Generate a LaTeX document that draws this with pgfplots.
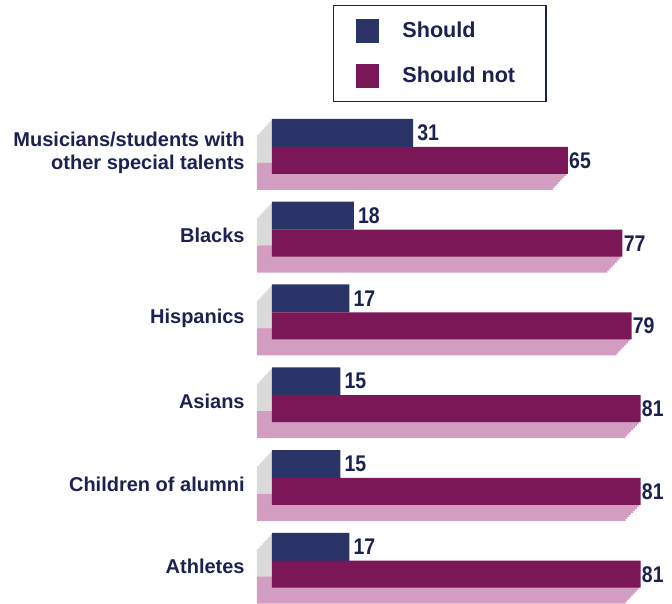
\documentclass[border=0pt]{standalone}
\usepackage{fontspec}
\setmainfont{Liberation Sans}
\usepackage{pgfplots}
\usepackage{pgfplotstable}
\pgfplotsset{compat=1.18}
\definecolor{navybar}{HTML}{2A3468}
\definecolor{maroonbar}{HTML}{7B1657}
\definecolor{pinkface}{HTML}{D29DC0}
\definecolor{grayface}{HTML}{DADADA}
\definecolor{txt}{HTML}{1B2150}
\pgfplotstableread{
x y
31 5
18 4
17 3
15 2
15 1
17 0
}\should
\pgfplotstableread{
x y
65 5
77 4
79 3
81 2
81 1
81 0
}\shouldnot
\begin{document}
\begin{tikzpicture}
\begin{axis}[name=front,
  scale only axis, width=300pt, height=452.25pt,
  xmin=0, xmax=87.9, ymin=-0.5106, ymax=6.7764,
  xbar, clip=false,
  axis line style={draw=none}, major tick length=0pt,
  xtick=\empty,
  ytick={0,1,2,3,4,5},
  yticklabels={Athletes, Children of alumni, Asians, Hispanics, Blacks, {Musicians/students with\\other special talents}},
  yticklabel style={font=\fontsize{15}{17.25}\selectfont\bfseries, text=txt, align=right, xshift=-17pt, yshift=-4.5pt},
  legend style={at={(rel axis cs:0.1525,0.9917)}, anchor=north west,
    draw=txt, line width=1.1pt, inner xsep=17pt, inner ysep=10pt,
    row sep=15.75pt, column sep=0pt,
    font=\fontsize{16.2}{17.25}\selectfont\bfseries, text=txt,
    nodes={inner sep=0pt}},
  legend cell align=left,
  legend image code/.code={\fill[#1] (0pt,-9pt) rectangle (17.25pt,9pt); \path (34.5pt,0pt);},
  /pgf/number format/assume math mode=true,
]
\pgfplotsinvokeforeach{1,...,8}{
  \addplot[forget plot, fill=grayface, draw=none, bar width=21pt, bar shift=10.5pt,
    xshift=-#1*1.40625pt, yshift=-#1*1.5pt] table[x=x,y=y] {\should};
  \addplot[forget plot, fill=pinkface, draw=none, bar width=20.25pt, bar shift=-10.1pt,
    xshift=-#1*1.40625pt, yshift=-#1*1.5pt] table[x=x,y=y] {\shouldnot};
}
\addplot[fill=navybar, draw=none, bar width=21pt, bar shift=10.5pt,
  nodes near coords, nodes near coords style={font=\fontsize{17}{18}\selectfont\bfseries, text=txt, inner sep=3.5pt, xscale=0.86}]
  table[x=x,y=y] {\should};
\addlegendentry{Should}
\addplot[fill=maroonbar, draw=none, bar width=20.25pt, bar shift=-10.1pt,
  nodes near coords, nodes near coords style={font=\fontsize{17}{18}\selectfont\bfseries, text=txt, inner sep=1pt, xscale=0.86}]
  table[x=x,y=y] {\shouldnot};
\addlegendentry{Should not\kern6pt\null}
\end{axis}
\pgfresetboundingbox
\path[use as bounding box] ([xshift=-204pt]front.south west) rectangle (front.north east);
\end{tikzpicture}
\end{document}
